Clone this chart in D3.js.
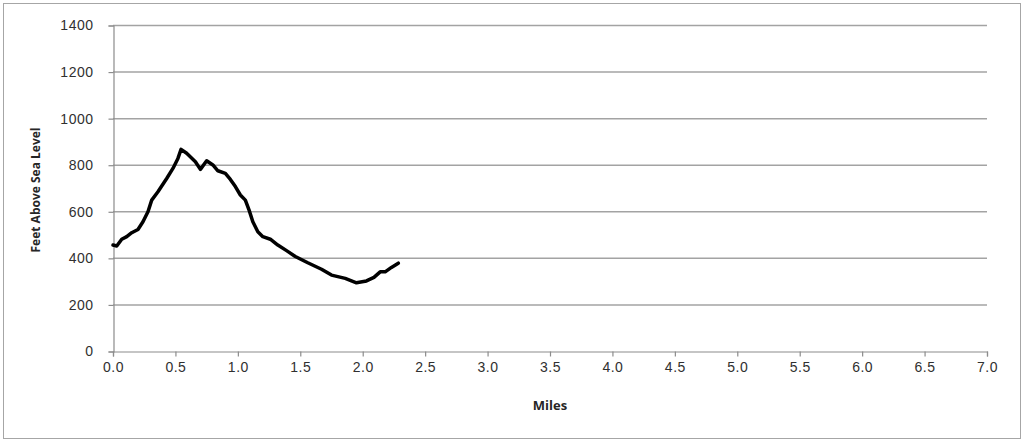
<!DOCTYPE html>
<html>
<head>
<meta charset="utf-8">
<script src="https://cdn.jsdelivr.net/npm/d3@7"></script>
<style>
  body { margin: 0; background: #fff; }
  svg { display: block; font-family: "Open Sans", "DejaVu Sans", sans-serif; }
  .tick text { fill: #303030; font-size: 14px; letter-spacing: 0.5px; }
</style>
</head>
<body>
<svg id="chart" width="1024" height="442"></svg>
<script>
// --- data ---
var miles = [0, 0.03, 0.07, 0.11, 0.15, 0.20, 0.24, 0.28, 0.31, 0.36, 0.43, 0.48, 0.52, 0.545,
  0.59, 0.66, 0.70, 0.75, 0.80, 0.84, 0.90, 0.94, 0.98, 1.02, 1.06, 1.09, 1.12, 1.16, 1.20,
  1.26, 1.32, 1.39, 1.46, 1.56, 1.67, 1.75, 1.86, 1.95, 2.03, 2.09, 2.14, 2.18, 2.23, 2.285];
var feet = [455, 451, 480, 491, 508, 522, 555, 598, 648, 684, 741, 784, 827, 866,
  849, 813, 780, 817, 799, 774, 763, 737, 706, 670, 648, 605, 555, 512, 491,
  480, 455, 431, 406, 379, 351, 326, 312, 293, 301, 316, 340, 340, 359, 377];
var xTicks = [0, 0.5, 1, 1.5, 2, 2.5, 3, 3.5, 4, 4.5, 5, 5.5, 6, 6.5, 7];
var yTicks = [0, 200, 400, 600, 800, 1000, 1200, 1400];

// --- layout ---
var margin = { left: 113, right: 37, top: 25, bottom: 91 };
var width = 1024, height = 442;

var svg = d3.select("#chart");

// outer frame
svg.append("rect")
  .attr("x", 3.5).attr("y", 3.5)
  .attr("width", width - 7).attr("height", height - 7)
  .attr("fill", "none")
  .attr("stroke", "#a6a6a6");

var x = d3.scaleLinear().domain([0, 7]).range([margin.left, width - margin.right]);
var y = d3.scaleLinear().domain([0, 1400]).range([height - margin.bottom, margin.top]);

// gridlines
svg.append("g")
  .selectAll("line")
  .data(yTicks.filter(function(d) { return d > 0; }))
  .enter()
    .append("line")
    .attr("x1", x(0)).attr("x2", x(7))
    .attr("y1", function(d) { return y(d) + 0.5; })
    .attr("y2", function(d) { return y(d) + 0.5; })
    .attr("stroke", "#a3a3a3")
    .attr("stroke-width", 1.5);

// y axis
var yAxis = svg.append("g")
  .attr("transform", "translate(" + (x(0) + 0.5) + ",0.5)")
  .call(d3.axisLeft(y).tickValues(yTicks).tickSize(5).tickPadding(15)
    .tickFormat(d3.format("d")));

// x axis
var xAxis = svg.append("g")
  .attr("transform", "translate(0," + (y(0) + 0.5) + ")")
  .call(d3.axisBottom(x).tickValues(xTicks).tickSize(5).tickPadding(14)
    .tickFormat(d3.format(".1f")));

[yAxis, xAxis].forEach(function(ax) {
  ax.select(".domain").attr("stroke", "#8c8c8c").attr("stroke-width", 1.2);
  ax.selectAll(".tick line").attr("stroke", "#8c8c8c").attr("stroke-width", 1.2);
});
xAxis.selectAll(".tick text").attr("dy", "0.1em");

// axis titles
svg.append("text")
  .attr("x", (x(0) + x(7)) / 2)
  .attr("y", 410)
  .attr("text-anchor", "middle")
  .attr("font-size", 13)
  .attr("font-weight", "bold")
  .attr("fill", "#262626")
  .text("Miles");

svg.append("text")
  .attr("transform", "translate(40,190) rotate(-90)")
  .attr("text-anchor", "middle")
  .attr("font-size", 12)
  .attr("font-weight", "bold")
  .attr("fill", "#262626")
  .text("Feet Above Sea Level");

// elevation line
var points = miles.map(function(m, i) { return [m, feet[i]]; });
var line = d3.line()
  .x(function(d) { return x(d[0]); })
  .y(function(d) { return y(d[1]); });

svg.append("path")
  .datum(points)
  .attr("d", line)
  .attr("fill", "none")
  .attr("stroke", "#000")
  .attr("stroke-width", 3.5)
  .attr("stroke-linejoin", "round")
  .attr("stroke-linecap", "round");
</script>
</body>
</html>
